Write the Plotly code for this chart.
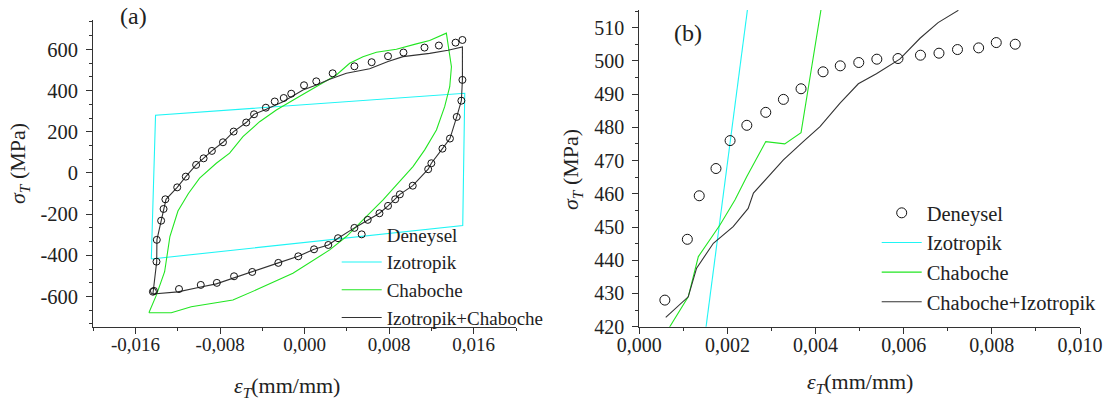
import plotly.graph_objects as go

# ---------------- Panel (a): full stabilised hysteresis loop ----------------
# Experimental points (loading branch followed by unloading branch)
exp_a_strain = [-0.01436, -0.01402, -0.01399, -0.01358, -0.01335, -0.01318, -0.01206, -0.01125,
                -0.01027, -0.00956, -0.00878, -0.00773, -0.00672, -0.00553, -0.00479, -0.00367,
                -0.00283, -0.00198, -0.00127, -0.00006, 0.00110, 0.00265, 0.00471, 0.00634,
                0.00789, 0.00935, 0.01134, 0.01270, 0.01428, 0.01493,
                0.01493, 0.01483, 0.01439, 0.01375, 0.01304, 0.01199, 0.01169, 0.01023,
                0.00901, 0.00857, 0.00789, 0.00708, 0.00597, 0.00471, 0.00316, 0.00224,
                0.00089, -0.00060, -0.00249, -0.00496, -0.00668, -0.00831, -0.00983, -0.01189,
                -0.01426]
exp_a_stress = [-577, -431, -325, -232, -175, -128, -70, -18,
                39, 71, 107, 149, 201, 245, 285, 317,
                347, 364, 385, 426, 445, 484, 518, 538,
                567, 585, 609, 619, 633, 646,
                452, 351, 272, 167, 118, 47, 18, -62,
                -104, -128, -160, -196, -228, -267, -317, -350,
                -371, -405, -437, -481, -502, -534, -544, -564,
                -573]

# Isotropic hardening model
iso_a_strain = [-0.01451, -0.01411, 0.01515, 0.01496, -0.01451]
iso_a_stress = [-418, 280, 387, -255, -418]

# Chaboche kinematic model
chab_a_strain = [-0.01474, -0.01404, -0.01325, -0.01300, -0.01275, -0.01199, -0.01100, -0.00994,
                 -0.00836, -0.00710, -0.00584, -0.00426, -0.00268, -0.00079, 0.00111, 0.00300,
                 0.00426, 0.00552, 0.00679, 0.00868, 0.01057, 0.01183, 0.01341,
                 0.01357, 0.01389, 0.01373, 0.01325, 0.01247, 0.01136, 0.01025, 0.00900,
                 0.00742, 0.00552, 0.00395, 0.00237, -0.00111, -0.00457, -0.00679, -0.01073,
                 -0.01262, -0.01474]
chab_a_stress = [-679, -595, -480, -400, -309, -185, -100, -25,
                 47, 96, 176, 249, 306, 363, 419, 476,
                 533, 565, 586, 601, 627, 643, 679,
                 630, 516, 419, 322, 209, 112, 31, -42,
                 -131, -228, -309, -374, -487, -568, -617, -650,
                 -679, -679]

# Combined isotropic + Chaboche model
comb_a_strain = [-0.01436, -0.01400, -0.01398, -0.01360, -0.01335, -0.01312, -0.01206, -0.01125,
                 -0.01027, -0.00956, -0.00878, -0.00773, -0.00672, -0.00553, -0.00479, -0.00363,
                 -0.00205, -0.00016, 0.00111, 0.00237, 0.00395, 0.00615, 0.00789, 0.00931,
                 0.01183, 0.01357, 0.01493,
                 0.01493, 0.01483, 0.01439, 0.01375, 0.01304, 0.01199, 0.01169, 0.01023,
                 0.00901, 0.00857, 0.00789, 0.00708, 0.00597, 0.00471, 0.00316, 0.00224,
                 0.00089, -0.00060, -0.00249, -0.00496, -0.00672, -0.00836, -0.00994, -0.01199,
                 -0.01436]
comb_a_stress = [-588, -431, -325, -232, -175, -128, -70, -18,
                 39, 71, 107, 149, 201, 245, 285, 309,
                 346, 403, 427, 455, 484, 506, 541, 565,
                 581, 596, 612,
                 452, 351, 272, 167, 118, 47, 18, -62,
                 -104, -128, -160, -196, -228, -267, -317, -350,
                 -371, -405, -437, -481, -513, -539, -555, -578,
                 -588]

# ---------------- Panel (b): close-up of the first loading ----------------
exp_b_strain = [0.00058, 0.00109, 0.00136, 0.00174, 0.00206, 0.00244, 0.00287, 0.00327,
                0.00367, 0.00417, 0.00456, 0.00498, 0.00539, 0.00587, 0.00638, 0.00680,
                0.00722, 0.00770, 0.00810, 0.00853]
exp_b_stress = [428.0, 446.3, 459.4, 467.6, 476.0, 480.6, 484.5, 488.4,
                491.6, 496.7, 498.5, 499.5, 500.5, 500.7, 501.7, 502.3,
                503.4, 503.9, 505.5, 505.0]

iso_b_strain = [0.00150, 0.00246]
iso_b_stress = [418.5, 516.0]

chab_b_strain = [0.00060, 0.00111, 0.00134, 0.00183, 0.00217, 0.00244, 0.00287, 0.00330,
                 0.00367, 0.00413]
chab_b_stress = [418.0, 429.0, 441.1, 450.6, 458.1, 465.2, 475.7, 475.0,
                 478.4, 516.0]

comb_b_strain = [0.00060, 0.00111, 0.00130, 0.00168, 0.00213, 0.00247, 0.00259, 0.00287,
                 0.00327, 0.00372, 0.00410, 0.00455, 0.00497, 0.00538, 0.00591, 0.00637,
                 0.00678, 0.00724]
comb_b_stress = [422.8, 429.0, 437.6, 445.1, 450.1, 455.6, 460.2, 464.2,
                 470.2, 475.7, 480.2, 487.2, 493.1, 496.1, 500.5, 506.8,
                 511.5, 515.2]

# Tick values and their labels (decimal comma)
a_x_ticks = [-0.016, -0.008, 0.0, 0.008, 0.016]
a_x_labels = ["-0,016", "-0,008", "0,000", "0,008", "0,016"]
a_y_ticks = [-600, -400, -200, 0, 200, 400, 600]
a_y_labels = ["-600", "-400", "-200", "0", "200", "400", "600"]
b_x_ticks = [0.0, 0.002, 0.004, 0.006, 0.008, 0.010]
b_x_labels = ["0,000", "0,002", "0,004", "0,006", "0,008", "0,010"]
b_y_ticks = [420, 430, 440, 450, 460, 470, 480, 490, 500, 510]
b_y_labels = [str(v) for v in b_y_ticks]

names_a = ["Deneysel", "Izotropik", "Chaboche", "Izotropik+Chaboche"]
names_b = ["Deneysel", "Izotropik", "Chaboche", "Chaboche+Izotropik"]

SERIF = "Liberation Serif"
CYAN = "#1ff5f5"
GREEN = "#22e622"
DARK = "#333333"
TEXT = "#222222"
W, H = 1105, 403


def px_x(p):
    return p / W


def px_y(p):
    return 1 - p / H


fig = go.Figure()

# panel (a) curves
fig.add_trace(go.Scatter(x=iso_a_strain, y=iso_a_stress, mode="lines", name=names_a[1],
                         line=dict(color=CYAN, width=1.1), legendrank=2,
                         xaxis="x", yaxis="y", legend="legend"))
fig.add_trace(go.Scatter(x=chab_a_strain, y=chab_a_stress, mode="lines", name=names_a[2],
                         line=dict(color=GREEN, width=1.1), legendrank=3,
                         xaxis="x", yaxis="y", legend="legend"))
fig.add_trace(go.Scatter(x=comb_a_strain, y=comb_a_stress, mode="lines", name=names_a[3],
                         line=dict(color=DARK, width=1.1), legendrank=4,
                         xaxis="x", yaxis="y", legend="legend"))
fig.add_trace(go.Scatter(x=exp_a_strain, y=exp_a_stress, mode="markers", name=names_a[0],
                         marker=dict(symbol="circle-open", size=7, color="#111111",
                                     line=dict(width=1)),
                         legendrank=1, xaxis="x", yaxis="y", legend="legend"))

# panel (b) curves
fig.add_trace(go.Scatter(x=iso_b_strain, y=iso_b_stress, mode="lines", name=names_b[1],
                         line=dict(color=CYAN, width=1.1), legendrank=2,
                         xaxis="x2", yaxis="y2", legend="legend2"))
fig.add_trace(go.Scatter(x=chab_b_strain, y=chab_b_stress, mode="lines", name=names_b[2],
                         line=dict(color=GREEN, width=1.1), legendrank=3,
                         xaxis="x2", yaxis="y2", legend="legend2"))
fig.add_trace(go.Scatter(x=comb_b_strain, y=comb_b_stress, mode="lines", name=names_b[3],
                         line=dict(color=DARK, width=1.1), legendrank=4,
                         xaxis="x2", yaxis="y2", legend="legend2"))
fig.add_trace(go.Scatter(x=exp_b_strain, y=exp_b_stress, mode="markers", name=names_b[0],
                         marker=dict(symbol="circle-open", size=10, color="#111111",
                                     line=dict(width=1)),
                         legendrank=1, xaxis="x2", yaxis="y2", legend="legend2"))

axis_common = dict(showline=True, linecolor=DARK, linewidth=1.3, showgrid=False,
                   zeroline=False, ticks="outside", ticklen=6, tickwidth=1.2,
                   tickcolor=DARK, tickmode="array", automargin=False)


def minor_ticks(step):
    return dict(tickmode="linear", tick0=0, dtick=step, ticks="outside",
                ticklen=3.5, tickcolor=DARK, tickwidth=1)


fig.update_layout(
    width=W, height=H,
    margin=dict(l=0, r=0, t=0, b=0, pad=0, autoexpand=False),
    paper_bgcolor="white", plot_bgcolor="white",
    font=dict(family=SERIF, color=TEXT),
    xaxis=dict(domain=[px_x(93.3), px_x(516)], range=[-0.02, 0.02], anchor="y",
               tickvals=a_x_ticks, ticktext=a_x_labels, minor=minor_ticks(0.004),
               tickfont=dict(family=SERIF, size=19, color=TEXT),
               ticklabelstandoff=-6, **axis_common),
    yaxis=dict(domain=[px_y(326.7), px_y(20)], range=[-747, 743], anchor="x",
               tickvals=a_y_ticks, ticktext=a_y_labels, minor=minor_ticks(200 / 3),
               tickfont=dict(family=SERIF, size=20.5, color=TEXT),
               ticklabelstandoff=4, **axis_common),
    xaxis2=dict(domain=[px_x(639.3), px_x(1080)], range=[0, 0.010], anchor="y2",
                tickvals=b_x_ticks, ticktext=b_x_labels, minor=minor_ticks(0.001),
                tickfont=dict(family=SERIF, size=20, color=TEXT),
                ticklabelstandoff=-6, **axis_common),
    yaxis2=dict(domain=[px_y(326.7), px_y(10)], range=[420, 515.3], anchor="x2",
                tickvals=b_y_ticks, ticktext=b_y_labels, minor=minor_ticks(5),
                tickfont=dict(family=SERIF, size=20, color=TEXT),
                ticklabelstandoff=4, **axis_common),
    legend=dict(x=px_x(336.7), y=px_y(215.5), xanchor="left", yanchor="top",
                itemwidth=40, bgcolor="rgba(0,0,0,0)",
                font=dict(family=SERIF, size=19, color=TEXT), tracegroupgap=0),
    legend2=dict(x=px_x(876.7), y=px_y(193), xanchor="left", yanchor="top",
                 itemwidth=40, bgcolor="rgba(0,0,0,0)",
                 font=dict(family=SERIF, size=20.5, color=TEXT), tracegroupgap=0),
    showlegend=True,
)

title_font = dict(family=SERIF, size=22, color=TEXT)
annotations = [
    dict(text="(a)", x=px_x(133), y=px_y(16), font=dict(family=SERIF, size=24, color=TEXT)),
    dict(text="(b)", x=px_x(688), y=px_y(33), font=dict(family=SERIF, size=24, color=TEXT)),
    dict(text="<i>σ<sub>T</sub></i> (MPa)", x=px_x(19), y=px_y(164), textangle=-90, font=title_font),
    dict(text="<i>ε<sub>T</sub></i>(mm/mm)", x=px_x(287), y=px_y(387), font=title_font),
    dict(text="<i>σ<sub>T</sub></i> (MPa)", x=px_x(572), y=px_y(170), textangle=-90, font=title_font),
    dict(text="<i>ε<sub>T</sub></i>(mm/mm)", x=px_x(860), y=px_y(383), font=title_font),
]
for a in annotations:
    a.update(xref="paper", yref="paper", showarrow=False, xanchor="center", yanchor="middle")
fig.update_layout(annotations=annotations)

fig.write_html("out.html")
